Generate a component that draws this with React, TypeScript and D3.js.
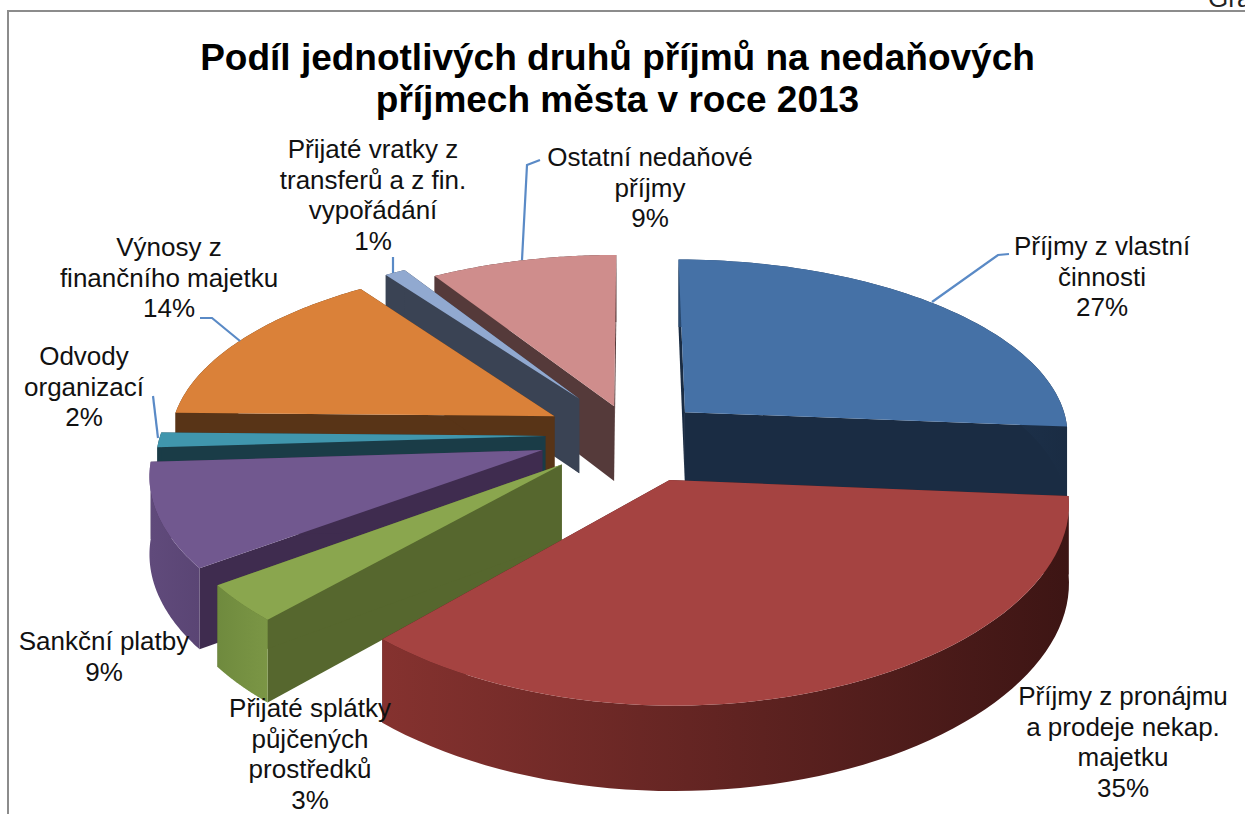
import React from "react";
import * as d3 from "d3";

const categories = [
  ["Příjmy z vlastní", "činnosti", "27%"],
  ["Příjmy z pronájmu", "a prodeje nekap.", "majetku", "35%"],
  ["Přijaté splátky", "půjčených", "prostředků", "3%"],
  ["Sankční platby", "9%"],
  ["Odvody", "organizací", "2%"],
  ["Výnosy z", "finančního majetku", "14%"],
  ["Přijaté vratky z", "transferů a z fin.", "vypořádání", "1%"],
  ["Ostatní nedaňové", "příjmy", "9%"],
];
const shares = [26.3, 35.5, 3.2, 9, 1.3, 14.7, 1, 9];
const explode = [0.19, 0.26, 0.24, 0.245, 0.225, 0.23, 0.25, 0.17];
const topColors = ["#4571a6", "#a54341", "#8aa64e", "#71588f", "#4096ad", "#da8139", "#91a9d0", "#cf8d8c"];
const cutColors = ["#1a2c43", "#4a1c1a", "#56672e", "#3f2c4f", "#1a3c47", "#583417", "#3a4354", "#553a3a"];
const wallFrom = ["#2a4a70", "#85322f", "#6f8a3e", "#604a7b", "#1a3c47", "#583417", "#3a4354", "#553a3a"];
const wallTo = ["#1a2c43", "#3d1514", "#7b9645", "#5a4574", "#1a3c47", "#583417", "#3a4354", "#553a3a"];
const paintOrder = [7, 6, 0, 5, 4, 3, 2, 1];
const labelAnchors: [number, number][] = [
  [1102, 255], [1123, 705], [310, 717], [104, 650], [84, 365], [169, 256], [373, 158], [650, 166],
];
const leaders: [number, number][][] = [
  [[932, 302], [998, 255], [1009, 254]],
  [[522, 260], [527, 165], [540, 160]],
  [[393, 273], [393, 257]],
  [[240, 341], [212, 318], [200, 318]],
  [[158, 438], [153, 396]],
];
const titleLines = ["Podíl jednotlivých druhů příjmů na nedaňových", "příjmech města v roce 2013"];

const CX = 632, CY = 435, RX = 385, RY = 180, PX = 0.12, PY = 0.14, PZ = 0.1, DEPTH = 76;

function project(theta: number, r: number, mid: number, e: number, z: number): [number, number] {
  const wx = r * Math.sin(theta) + e * Math.sin(mid);
  const wy = -(r * Math.cos(theta) + e * Math.cos(mid));
  const sx = 1 + PX * wy;
  const sy = 1 / (1 - PY * wy);
  return [CX + RX * wx * sx, CY + RY * wy * sy + DEPTH * z * (1 + PZ * wy)];
}

export default function App() {
  const arcs = d3.pie<number>().sort(null).value((d) => d)(shares);
  const line = d3.line();
  const fontFamily = "'Liberation Sans', Arial, sans-serif";
  return (
    <svg width={1245} height={814} style={{ position: "absolute", left: 0, top: 0, background: "#fff" }}>
      <defs>
        {arcs.map((a, i) => {
          const mid = (a.startAngle + a.endAngle) / 2;
          const p0 = project(a.startAngle, 1, mid, explode[i], 0);
          const p1 = project(a.endAngle, 1, mid, explode[i], 0);
          return (
            <linearGradient key={i} id={`wall${i}`} gradientUnits="userSpaceOnUse" x1={Math.min(p0[0], p1[0])} x2={Math.max(p0[0], p1[0])} y1={0} y2={0}>
              <stop offset="0" stopColor={wallFrom[i]} />
              <stop offset="1" stopColor={wallTo[i]} />
            </linearGradient>
          );
        })}
      </defs>
      <path d="M8 814V11H1245" fill="none" stroke="#8c8c8c" strokeWidth={2} />
      <text x={1208} y={7} fontFamily={fontFamily} fontSize={26} fill="#222">Gra</text>
      {paintOrder.map((i) => {
        const a = arcs[i];
        const mid = (a.startAngle + a.endAngle) / 2;
        const e = explode[i];
        const P = (t: number, r: number, z: number) => project(t, r, mid, e, z);
        const ts = d3.range(0, 61).map((k) => a.startAngle + ((a.endAngle - a.startAngle) * k) / 60);
        const topArc = ts.map((t) => P(t, 1, 0));
        const botArc = ts.map((t) => P(t, 1, 1)).reverse();
        const radial = (t: number) => [P(0, 0, 0), P(t, 1, 0), P(t, 1, 1), P(0, 0, 1)] as [number, number][];
        return (
          <g key={i}>
            <path d={line(radial(a.startAngle)) + "Z"} fill={cutColors[i]} />
            <path d={line(radial(a.endAngle)) + "Z"} fill={cutColors[i]} />
            <path d={line([...topArc, ...botArc]) + "Z"} fill={`url(#wall${i})`} />
            <path d={line([P(0, 0, 0), ...topArc]) + "Z"} fill={topColors[i]} />
          </g>
        );
      })}
      {leaders.map((l, i) => (
        <path key={i} d={line(l) ?? ""} fill="none" stroke="#5a8ac6" strokeWidth={2.2} />
      ))}
      <g fontFamily={fontFamily} fontSize={37} fontWeight="bold" textAnchor="middle" fill="#000">
        {titleLines.map((t, i) => (
          <text key={i} x={617.5} y={70 + i * 42}>{t}</text>
        ))}
      </g>
      <g fontFamily={fontFamily} fontSize={26} textAnchor="middle" fill="#111">
        {categories.map((lines, i) =>
          lines.map((t, j) => (
            <text key={j + "-" + i} x={labelAnchors[i][0]} y={labelAnchors[i][1] + j * 30.5}>{t}</text>
          ))
        )}
      </g>
    </svg>
  );
}
